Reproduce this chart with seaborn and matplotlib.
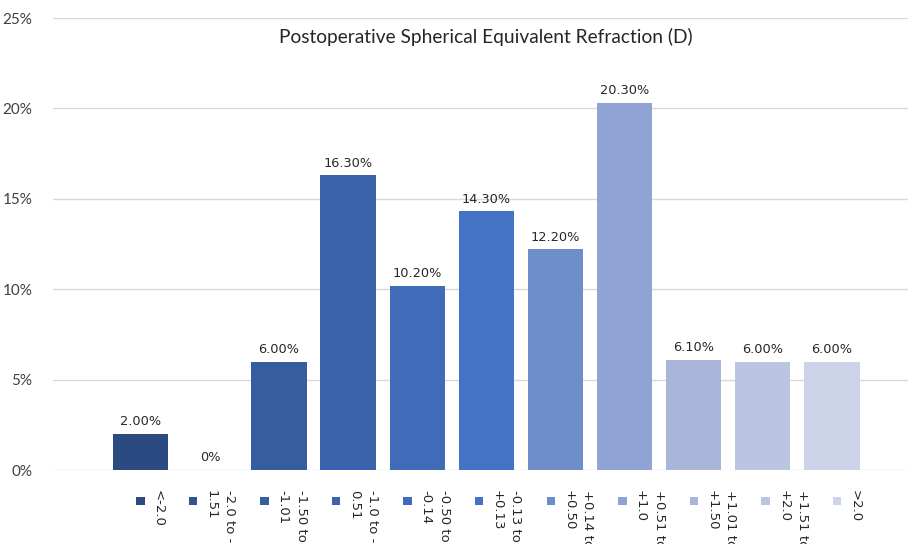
import matplotlib
matplotlib.use("Agg")
import matplotlib.pyplot as plt
import seaborn as sns
import pandas as pd
from matplotlib.patches import Rectangle
from matplotlib.ticker import FuncFormatter

# data
categories = ["<-2.0", "-2.0 to -\n1.51", "-1.50 to\n-1.01", "-1.0 to -\n0.51",
              "-0.50 to\n-0.14", "-0.13 to\n+0.13", "+0.14 to\n+0.50", "+0.51 to\n+1.0",
              "+1.01 to\n+1.50", "+1.51 to\n+2.0", ">2.0"]
values = [2.0, 0.0, 6.0, 16.3, 10.2, 14.3, 12.2, 20.3, 6.1, 6.0, 6.0]
value_labels = ["2.00%", "0%", "6.00%", "16.30%", "10.20%", "14.30%",
                "12.20%", "20.30%", "6.10%", "6.00%", "6.00%"]
colors = ["#2C4A82", "#305290", "#355D9F", "#3A63AB", "#3F6BB9", "#4472C4",
          "#6F8CCB", "#8FA3D4", "#A9B6DA", "#BBC4E2", "#CDD3E8"]

df = pd.DataFrame({"cat": categories, "val": values})

sns.set_style("white")
plt.rcParams["font.family"] = ["DejaVu Sans"]

fig = plt.figure(figsize=(9.09, 5.44), dpi=100)
ax = fig.add_axes([53 / 909, 1 - 470 / 544, 855 / 909, 452 / 544])

sns.barplot(data=df, x="cat", y="val", hue="cat", palette=colors, legend=False,
            width=0.8, ax=ax, saturation=1, linewidth=0, edgecolor="none")

for cont, lab in zip(ax.containers, value_labels):
    ax.bar_label(cont, labels=[lab], padding=4, fontsize=9.3, color="#262626")

ax.set_ylim(0, 25)
ax.set_xlim(-1.27, 11.1)
ax.set_yticks([0, 5, 10, 15, 20, 25])
ax.yaxis.set_major_formatter(FuncFormatter(lambda v, p: f"{v:.0f}%"))
ax.tick_params(axis="y", length=0, pad=15, labelsize=11, labelcolor="#404040")
for t in ax.get_yticklabels():
    t.set_fontfamily("Lato")
ax.set_xticks([])
ax.set_xlabel("")
ax.set_ylabel("")
ax.grid(axis="y", color="#D9D9D9", linewidth=1)
ax.set_axisbelow(True)
for s in ax.spines.values():
    s.set_visible(False)

fig.text(486 / 909, 1 - 37 / 544, "Postoperative Spherical Equivalent Refraction (D)",
         ha="center", va="center", fontsize=13.8, family="Lato", color="#262626")

# legend with rotated labels along the bottom
W, H = 909, 544
mx = 136.0
for lab, col in zip(categories, colors):
    n = lab.count("\n") + 1
    fig.patches.append(Rectangle((mx / W, 1 - 505 / H), 8.5 / W, 8.5 / H,
                                 transform=fig.transFigure, facecolor=col, edgecolor="none"))
    fig.text((mx + 16) / W, 1 - 490 / H, lab, rotation=-90, ha="left", va="top",
             fontsize=9.5, linespacing=1.55, color="#262626")
    mx += 33.4 + 19.1 * n

fig.savefig("out.png", dpi=100, facecolor="white")
